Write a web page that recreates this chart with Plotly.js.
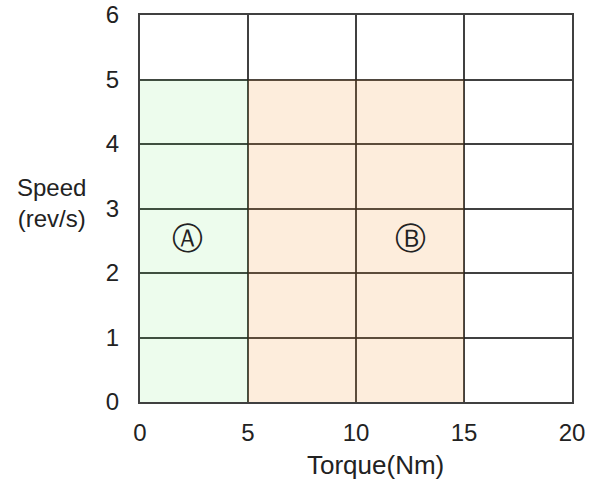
<!DOCTYPE html>
<html>
<head>
<meta charset="utf-8">
<script src="https://cdn.plot.ly/plotly-3.0.1.min.js"></script>
<style>html,body{margin:0;padding:0;background:#fff;}#chart{width:590px;height:482px;}</style>
</head>
<body>
<div id="chart"></div>
<script>
// Regions (torque range x speed range)
const regionNames = ["A", "B"];
const regionX0 = [0, 5];
const regionX1 = [5, 15];
const regionY0 = [0, 0];
const regionY1 = [5, 5];
const regionLabels = ["\u24B6", "\u24B7"];
const labelX = [2.2, 12.5];
const labelY = [2.5, 2.5];
const xTicks = [0, 5, 10, 15, 20];
const yTicks = [0, 1, 2, 3, 4, 5, 6];

const fills = ["rgba(60,225,60,0.095)", "rgba(245,140,40,0.16)"];

const traces = regionNames.map((n, i) => ({
  type: "scatter",
  mode: "lines",
  x: [regionX0[i], regionX1[i], regionX1[i], regionX0[i], regionX0[i]],
  y: [regionY0[i], regionY0[i], regionY1[i], regionY1[i], regionY0[i]],
  fill: "toself",
  fillcolor: fills[i],
  line: {width: 0},
  hoverinfo: "skip",
  showlegend: false
}));

traces.push({
  type: "scatter",
  mode: "text",
  x: labelX,
  y: labelY,
  text: regionLabels,
  textfont: {family: "DejaVu Sans", size: 31, color: "#222"},
  showlegend: false,
  hoverinfo: "skip"
});

const font = {family: "Liberation Sans, Arial, sans-serif", size: 24, color: "#222"};

const layout = {
  width: 590,
  height: 482,
  margin: {l: 140, r: 18, t: 15, b: 80},
  paper_bgcolor: "#fff",
  plot_bgcolor: "#fff",
  showlegend: false,
  font: font,
  xaxis: {
    range: [0, 20],
    tickvals: xTicks,
    ticktext: xTicks.map(String),
    showgrid: true,
    gridcolor: "rgba(30,30,30,0.85)",
    gridwidth: 2,
    zeroline: false,
    showline: true,
    linecolor: "rgba(30,30,30,0.85)",
    linewidth: 2,
    mirror: true,
    ticks: "outside",
    ticklen: 8,
    tickcolor: "rgba(0,0,0,0)",
    tickfont: font,
    fixedrange: true
  },
  yaxis: {
    range: [0, 6],
    tickvals: yTicks,
    ticktext: yTicks.map(String),
    showgrid: true,
    gridcolor: "rgba(30,30,30,0.85)",
    gridwidth: 2,
    zeroline: false,
    showline: true,
    linecolor: "rgba(30,30,30,0.85)",
    linewidth: 2,
    mirror: true,
    ticks: "outside",
    ticklen: 14,
    tickcolor: "rgba(0,0,0,0)",
    tickfont: font,
    fixedrange: true
  },
  annotations: [
    {
      text: "Speed<br>(rev/s)",
      xref: "paper", yref: "paper",
      x: -0.12, y: 0.515,
      xanchor: "right", yanchor: "middle",
      align: "center",
      showarrow: false,
      font: {family: "Liberation Sans, Arial, sans-serif", size: 24, color: "#222"}
    },
    {
      text: "Torque(Nm)",
      xref: "paper", yref: "paper",
      x: 0.545, y: -0.12,
      xanchor: "center", yanchor: "top",
      showarrow: false,
      font: {family: "Liberation Sans, Arial, sans-serif", size: 26, color: "#222"}
    }
  ]
};

Plotly.newPlot("chart", traces, layout, {displayModeBar: false, staticPlot: true});
</script>
</body>
</html>
